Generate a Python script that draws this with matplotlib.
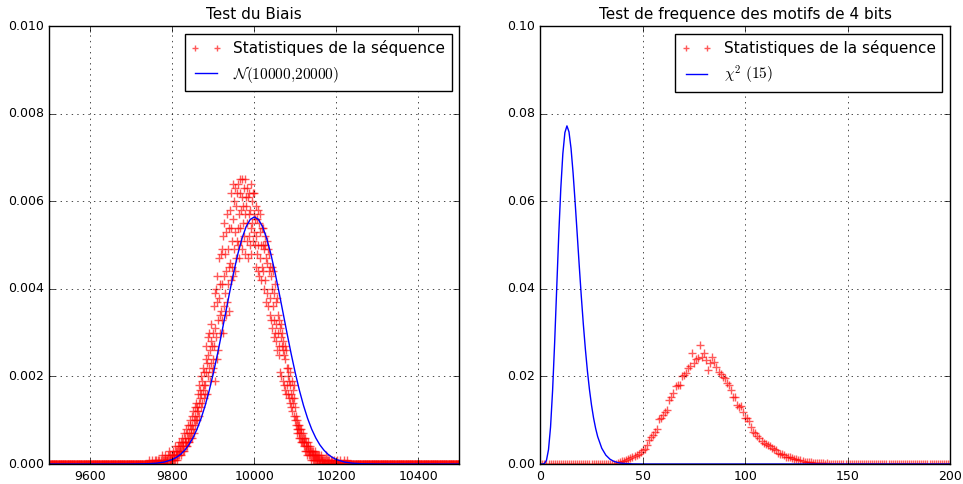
import numpy as np
import matplotlib
matplotlib.use("Agg")
import matplotlib.pyplot as plt

plt.style.use("classic")
plt.rcParams["figure.facecolor"] = "white"
plt.rcParams["savefig.facecolor"] = "white"
plt.rcParams["font.size"] = 9
plt.rcParams["legend.fontsize"] = 11

# --- Test du Biais : nombre d'occurrences (sur 10000 essais) pour x = 9740..10240
bias_start = 9740
bias_counts = [
    0, 0, 0, 0, 1, 0, 0, 0, 0, 0, 0, 1, 0, 0, 0, 0, 0, 0, 1, 0,
    0, 1, 0, 0, 0, 1, 0, 0, 1, 0, 0, 0, 1, 0, 0, 2, 0, 1, 0, 0,
    1, 0, 2, 1, 0, 1, 0, 1, 1, 2, 0, 1, 3, 1, 0, 2, 1, 0, 2, 1,
    2, 1, 3, 2, 1, 2, 4, 1, 3, 2, 2, 3, 1, 4, 2, 3, 5, 2, 3, 4,
    3, 5, 2, 4, 6, 3, 5, 4, 7, 3, 5, 6, 4, 8, 5, 7, 4, 6, 9, 5,
    7, 5, 9, 6, 10, 8, 7, 11, 6, 9, 12, 8, 10, 7, 13, 9, 11, 14, 10, 12,
    13, 10, 16, 12, 18, 14, 11, 17, 15, 20, 13, 16, 19, 14, 22, 17, 15, 21, 18, 16,
    18, 24, 21, 27, 16, 23, 29, 20, 25, 22, 30, 19, 26, 28, 23, 32, 21, 27, 24, 30,
    22, 36, 27, 39, 31, 19, 40, 29, 37, 24, 43, 33, 26, 38, 47, 30, 41, 34, 48, 35,
    33, 49, 41, 30, 52, 43, 36, 55, 39, 48, 34, 53, 44, 57, 37, 49, 41, 54, 45, 35,
    46, 58, 42, 54, 62, 45, 51, 64, 43, 56, 49, 60, 44, 63, 53, 47, 59, 51, 62, 54,
    50, 64, 57, 47, 62, 54, 65, 58, 51, 61, 65, 49, 59, 55, 63, 52, 65, 57, 48, 61,
    59, 51, 63, 55, 47, 61, 57, 52, 62, 50, 58, 64, 54, 48, 60, 55, 62, 51, 57, 53,
    62, 50, 56, 45, 59, 52, 48, 56, 44, 58, 50, 55, 43, 53, 47, 57, 42, 50, 54, 45,
    54, 44, 50, 40, 49, 52, 42, 50, 37, 47, 51, 39, 46, 49, 36, 44, 48, 38, 45, 34,
    43, 33, 45, 31, 40, 36, 44, 29, 39, 33, 30, 41, 28, 37, 32, 26, 38, 30, 34, 27,
    33, 25, 31, 21, 29, 32, 20, 27, 30, 19, 26, 28, 18, 25, 27, 17, 24, 26, 16, 22,
    18, 22, 16, 20, 15, 19, 21, 14, 18, 16, 13, 19, 15, 12, 17, 14, 18, 11, 15, 13,
    10, 9, 11, 8, 10, 7, 9, 8, 6, 9, 7, 8, 6, 7, 5, 8, 6, 5, 7, 5,
    6, 4, 5, 3, 6, 4, 5, 3, 4, 2, 4, 3, 5, 2, 3, 4, 2, 3, 1, 3,
    3, 2, 1, 3, 2, 2, 1, 3, 2, 1, 2, 1, 2, 0, 1, 2, 1, 0, 2, 1,
    1, 0, 2, 1, 0, 1, 1, 0, 1, 0, 1, 0, 0, 1, 0, 2, 0, 1, 0, 0,
    1, 0, 0, 1, 0, 0, 0, 1, 0, 0, 1, 0, 0, 0, 0, 1, 0, 0, 0, 0,
    0, 0, 1, 0, 0, 0, 0, 0, 0, 1, 0, 0, 0, 0, 0, 0, 0, 0, 1, 0,
    0, 0, 0, 0, 0, 1, 0, 0, 0, 0, 0, 0, 0, 0, 0, 0, 0, 0, 0, 0,
    0,
]
bias_total = 10000
bias_range = (9500, 10500)

# courbe N(10000, 20000)
normal_x = [9500, 9600, 9650, 9700, 9740, 9760, 9780, 9800, 9810, 9820,
            9830, 9840, 9850, 9860, 9870, 9880, 9890, 9900, 9910, 9920,
            9930, 9940, 9950, 9960, 9970, 9980, 9990, 10000,
            10010, 10020, 10030, 10040, 10050, 10060, 10070, 10080, 10090, 10100,
            10110, 10120, 10130, 10140, 10150, 10160, 10170, 10180, 10190, 10200,
            10220, 10240, 10260, 10300, 10350, 10400, 10500]
normal_y = [0.0, 0.0, 0.0, 0.0000007, 0.0000065, 0.0000178, 0.0000446, 0.000103, 0.000153, 0.000221,
            0.000314, 0.000436, 0.000595, 0.000795, 0.001041, 0.001337, 0.001682, 0.002076, 0.002510, 0.002975,
            0.003456, 0.003936, 0.004394, 0.004808, 0.005156, 0.005421, 0.005586, 0.005642,
            0.005586, 0.005421, 0.005156, 0.004808, 0.004394, 0.003936, 0.003456, 0.002975, 0.002510, 0.002076,
            0.001682, 0.001337, 0.001041, 0.000795, 0.000595, 0.000436, 0.000314, 0.000221, 0.000153, 0.000103,
            0.0000446, 0.0000178, 0.0000065, 0.0000007, 0.0, 0.0, 0.0]

# --- Test de frequence des motifs de 4 bits, x = 0..200
motif_start = 38
motif_freq = [
    0.0002, 0.0004, 0.0006, 0.0008, 0.0009, 0.0011, 0.0013, 0.0015, 0.0018, 0.0021,
    0.0024, 0.0027, 0.0031, 0.0034, 0.0043, 0.0055, 0.0061, 0.0066, 0.0072, 0.0079,
    0.0102, 0.0104, 0.0112, 0.0119, 0.0124, 0.0146, 0.0153, 0.0162, 0.0178, 0.0181,
    0.0180, 0.0200, 0.0204, 0.0208, 0.0220, 0.0223, 0.0253, 0.0231, 0.0240, 0.0241,
    0.0272, 0.0245, 0.0253, 0.0237, 0.0215, 0.0230, 0.0245, 0.0232, 0.0222, 0.0210,
    0.0206, 0.0199, 0.0197, 0.0184, 0.0180, 0.0168, 0.0152, 0.0154, 0.0135, 0.0131,
    0.0132, 0.0118, 0.0104, 0.0105, 0.0098, 0.0085, 0.0074, 0.0070, 0.0064, 0.0059,
    0.0052, 0.0049, 0.0045, 0.0043, 0.0040, 0.0036, 0.0034, 0.0033, 0.0026, 0.0024,
    0.0023, 0.0021, 0.0017, 0.0016, 0.0015, 0.0013, 0.0012, 0.0011, 0.0010, 0.0009,
    0.0007, 0.0005, 0.0005, 0.0004, 0.0004, 0.0003, 0.0003, 0.0003, 0.0002, 0.0002,
    0.0002, 0.0001, 0.0002, 0.0001, 0.0001, 0.0001, 0.0001,
]
motif_range = (0, 200)

# courbe chi2(15)
chi2_x = [0, 1, 2, 3, 4, 5, 6, 7, 8, 9, 10, 11, 12, 13, 14, 15, 16, 17, 18, 19, 20,
          21, 22, 23, 24, 25, 26, 27, 28, 30, 32, 34, 36, 38, 40, 45, 50, 60, 200]
chi2_y = [0.0, 0.0000018, 0.000098, 0.000832, 0.00327, 0.00846, 0.01681, 0.02773,
          0.04007, 0.05230, 0.06292, 0.07087, 0.07569, 0.07722, 0.07585, 0.07208,
          0.06647, 0.05978, 0.05260, 0.04533, 0.03835, 0.03194, 0.02623, 0.02123,
          0.01699, 0.01343, 0.01051, 0.00815, 0.00626, 0.00360, 0.00202, 0.00110,
          0.000587, 0.000307, 0.000158, 0.000028, 0.0000045, 0.0, 0.0]

label_stats = "Statistiques de la séquence"


def stats_series(start, values, xrange_):
    xs = np.arange(xrange_[0], xrange_[1] + 1)
    ys = np.zeros(len(xs))
    i0 = start - xrange_[0]
    ys[i0:i0 + len(values)] = values
    return xs, ys


fig = plt.figure(figsize=(9.63, 4.84), dpi=100)
fig.subplots_adjust(left=0.0514, right=0.9865, bottom=0.0413, top=0.946, wspace=0.198)

ax1 = fig.add_subplot(1, 2, 1)
bx, by = stats_series(bias_start, np.array(bias_counts) / bias_total, bias_range)
ax1.plot(bx, by, "+", color="r", alpha=0.65, markersize=6, mew=1, label=label_stats)
ax1.plot(normal_x, normal_y, "-", color="b", lw=1, label=r"$\mathcal{N}(10000{,}20000)$")
ax1.set_xlim(*bias_range)
ax1.set_ylim(0, 0.010)
ax1.set_xticks([9600, 9800, 10000, 10200, 10400])
ax1.set_yticks(np.arange(0, 0.0101, 0.002))
ax1.ticklabel_format(useOffset=False, axis="x")
ax1.grid(True)
ax1.set_title("Test du Biais", fontsize=11)
ax1.legend(loc="upper right", numpoints=2, markerscale=0.7, fancybox=False)

ax2 = fig.add_subplot(1, 2, 2)
mx, my = stats_series(motif_start, motif_freq, motif_range)
ax2.plot(mx, my, "+", color="r", alpha=0.65, markersize=6, mew=1, label=label_stats)
ax2.plot(chi2_x, chi2_y, "-", color="b", lw=1, label=r"$\chi^2\ (15)$")
ax2.set_xlim(*motif_range)
ax2.set_ylim(0, 0.10)
ax2.set_xticks([0, 50, 100, 150, 200])
ax2.set_yticks(np.arange(0, 0.101, 0.02))
ax2.grid(True)
ax2.set_title("Test de frequence des motifs de 4 bits", fontsize=11)
ax2.legend(loc="upper right", numpoints=2, markerscale=0.7, fancybox=False)

fig.savefig("out.png", dpi=100)
